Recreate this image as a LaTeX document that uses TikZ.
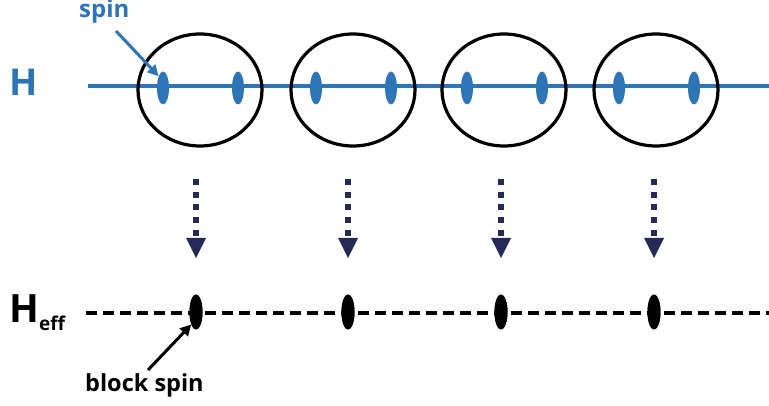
\documentclass[tikz,border=0pt]{standalone}
\usepackage{fontspec}
\setmainfont{Open Sans}
\usetikzlibrary{shapes.geometric,arrows.meta}
\definecolor{spinblue}{HTML}{2E75B6}
\definecolor{navy}{HTML}{232A55}
\tikzset{
  blockcircle/.style={draw=black,line width=3.2pt,ellipse,minimum width=124pt,minimum height=112pt,inner sep=0pt},
  bluespin/.style={fill=spinblue,ellipse,minimum width=12pt,minimum height=33pt,inner sep=0pt},
  blackspin/.style={fill=black,ellipse,minimum width=13pt,minimum height=35pt,inner sep=0pt},
  chainline/.style={draw=spinblue,line width=4.5pt},
  effline/.style={draw=black,line width=3.8pt,dash pattern=on 11pt off 6pt},
  rgdots/.style={draw=navy,line width=6pt,dash pattern=on 6pt off 6.7pt},
  rghead/.style={fill=navy},
  pointer/.style={line width=3pt,-{Triangle[length=11pt,width=11pt]}},
  lbl/.style={anchor=base west,inner sep=0pt},
}
\begin{document}
\begin{tikzpicture}[x=1pt,y=-1pt]
\useasboundingbox (0,0) rectangle (769,406);
% chain
\coordinate (hl) at (88,86);
\coordinate (hr) at (769,86);
\draw[chainline] (hl) -- (hr);
\foreach \i/\cx in {1/200,2/353,3/504,4/656}{
  \node[blockcircle] (c\i) at (\cx,90) {};
  \node[bluespin] (sa\i) at (\cx-37,88) {};
  \node[bluespin] (sb\i) at (\cx+38,88) {};
}
\foreach \i/\cx in {1/196,2/348,3/501,4/654}{
  \coordinate (at\i) at (\cx,179);
  \coordinate (am\i) at (\cx,236);
  \coordinate (ab\i) at (\cx,258);
  \draw[rgdots] (at\i) -- (am\i);
  \fill[rghead] (ab\i) -- ([xshift=-10pt,yshift=20pt]ab\i) -- ([xshift=10pt,yshift=20pt]ab\i) -- cycle;
  \node[blackspin] (bs\i) at (\cx,312) {};
}
\coordinate (el) at (86,313);
\coordinate (er) at (769,313);
\draw[effline] (el) -- (er);
\foreach \i in {1,2,3,4}{\node[blackspin] at (bs\i) {};}
% labels
\node[lbl,text=spinblue,font=\fontsize{37}{40}\selectfont\bfseries] (H) at (9,96) {H};
\node[lbl,text=black,font=\fontsize{39}{40}\selectfont\bfseries] (Heff) at (9,323) {H\raisebox{-8pt}{\fontsize{19}{20}\selectfont eff}};
\node[lbl,text=spinblue,font=\fontsize{24}{24}\selectfont\bfseries] (spin) at (79,18) {spin};
\node[lbl,text=black,font=\fontsize{23.5}{24}\selectfont\bfseries] (bspin) at (85,391) {block spin};
\coordinate (sp1) at (116,31);
\draw[pointer,draw=spinblue,fill=spinblue] (sp1) -- (sa1.north west);
\coordinate (bp1) at (148,370);
\draw[pointer,draw=black,fill=black] (bp1) -- (bs1.south west);
\end{tikzpicture}
\end{document}
